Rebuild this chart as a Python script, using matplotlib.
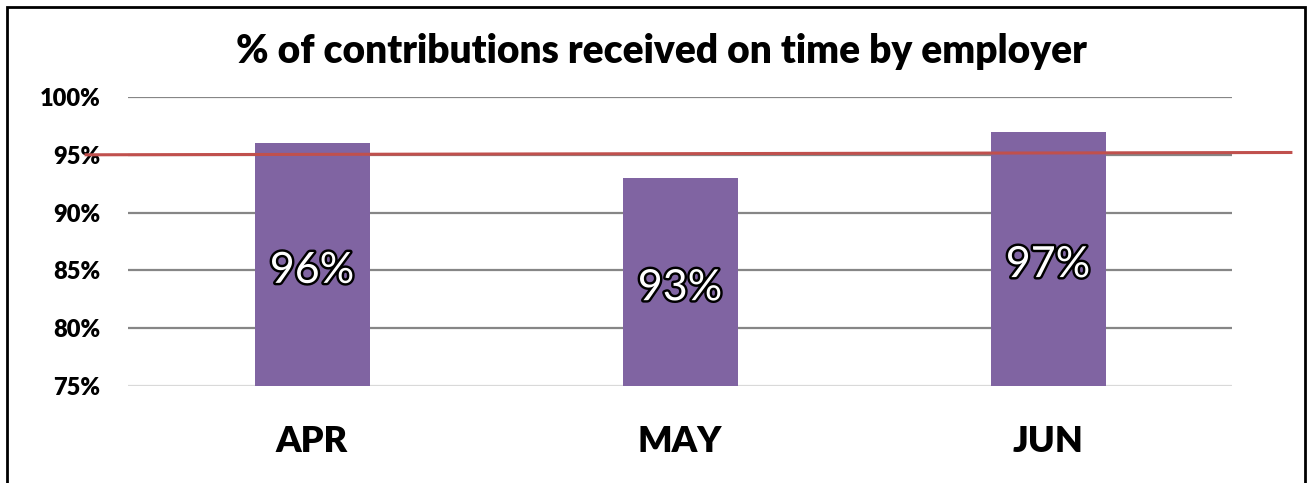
import matplotlib
matplotlib.use("Agg")
import matplotlib.pyplot as plt
import matplotlib.patheffects as pe
from matplotlib.patches import Rectangle

months = ["APR", "MAY", "JUN"]
values = [96, 93, 97]
target = [95.0, 95.2]
yticks = [75, 80, 85, 90, 95, 100]

plt.rcParams['font.family'] = ['Lato', 'DejaVu Sans']

W, H = 1309, 483
fig = plt.figure(figsize=(W/100, H/100), dpi=100)
ax = fig.add_axes([128/W, 1-386/H, (1232-128)/W, (386-97)/H])

x = list(range(len(months)))
ax.bar(x, [v-75 for v in values], bottom=75, width=0.3125, color="#8064A2", zorder=3)
ax.set_xlim(-0.5, 2.5)
ax.set_ylim(75, 100)

for yv in yticks[1:]:
    ax.axhline(yv, color="#868686", lw=1.6, zorder=1)
ax.axhline(75, color="#d9d9d9", lw=1.6, zorder=1)

ax.set_yticks(yticks)
ax.set_yticklabels([f"{v}%" for v in yticks], fontsize=17, fontweight="heavy")
ax.set_xticks(x)
ax.set_xticklabels(months, fontsize=26, fontweight="heavy")
ax.tick_params(axis="y", length=0, pad=20)
ax.tick_params(axis="x", length=0, pad=28)
for s in ax.spines.values():
    s.set_visible(False)

for xi, v in zip(x, values):
    ax.annotate(f"{v}%", xy=(xi, (75+v)/2), xytext=(0, -4.5), textcoords="offset points",
                ha="center", va="center", fontsize=31, color="white", zorder=5,
                path_effects=[pe.withStroke(linewidth=3.5, foreground="black")])

# target line extends beyond plot area
ax.plot([-0.614, 2.66], target, color="#C0504D", lw=2.2, zorder=4, clip_on=False)

fig.text(661/W, 1-51/H, "% of contributions received on time by employer",
         ha="center", va="center", fontsize=28, fontweight="heavy")

fig.patches.append(Rectangle((7/W, -0.05), (1305-7)/W, (1-7/H)+0.05, transform=fig.transFigure,
                             fill=False, edgecolor="black", lw=2, clip_on=False))

fig.savefig("out.png", dpi=100)
